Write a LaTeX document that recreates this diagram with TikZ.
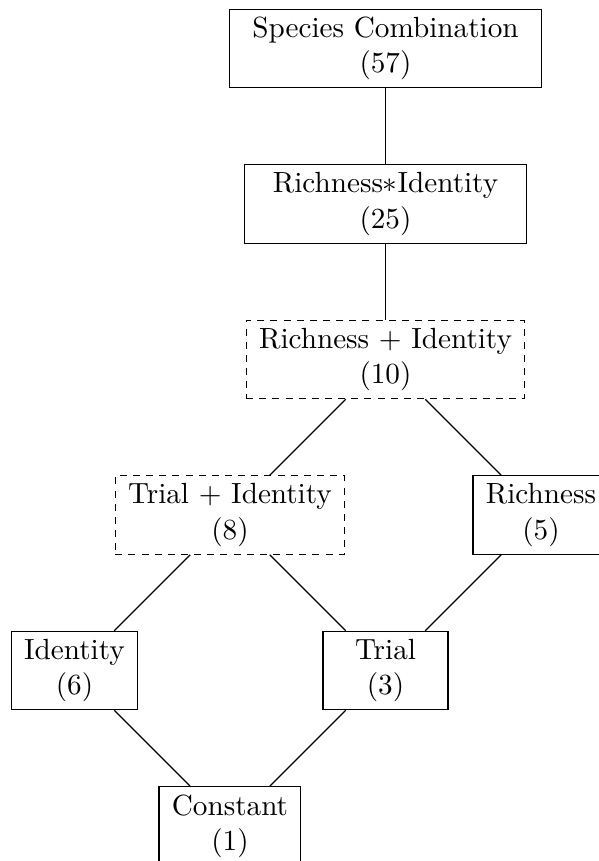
\documentclass[tikz,border=0pt]{standalone}
\usepackage{amsmath,amssymb}
\usepackage{tikz}
\usetikzlibrary{positioning}

\begin{document}
\begin{tikzpicture}[x=1.872cm, y=1.872cm,
    model/.style={draw, align=center, inner xsep=4.4pt, inner ysep=2.7pt,
                  minimum width=42.8pt},
    submodel/.style={model, dash pattern=on 2.4pt off 2.1pt}]
    \useasboundingbox (-0.479,-0.225) rectangle (3.367,5.312);

    % Full models
    \node[model, minimum width=107pt] (species) at (2,5) {Species Combination\\(57)};
    \node[model, minimum width=96.5pt] (richXid) at (2,4) {Richness$*$Identity\\(25)};

    % Additive models
    \node[submodel] (richPid) at (2,3) {Richness $+$ Identity\\(10)};
    \node[submodel] (trialPid) at (1,2) {Trial $+$ Identity\\(8)};
    \node[model] (richness) at (3,2) {Richness\\(5)};

    % Single terms
    \node[model] (identity) at (0,1) {Identity\\(6)};
    \node[model] (trial) at (2,1) {Trial\\(3)};
    \node[model] (constant) at (1,0) {Constant\\(1)};

    % Nesting lines
    \draw (species) -- (richXid);
    \draw (richXid) -- (richPid);
    \draw (richPid) -- (trialPid);
    \draw (richPid) -- (richness);
    \draw (trialPid) -- (identity);
    \draw (trialPid) -- (trial);
    \draw (richness) -- (trial);
    \draw (identity) -- (constant);
    \draw (trial) -- (constant);
\end{tikzpicture}
\end{document}
